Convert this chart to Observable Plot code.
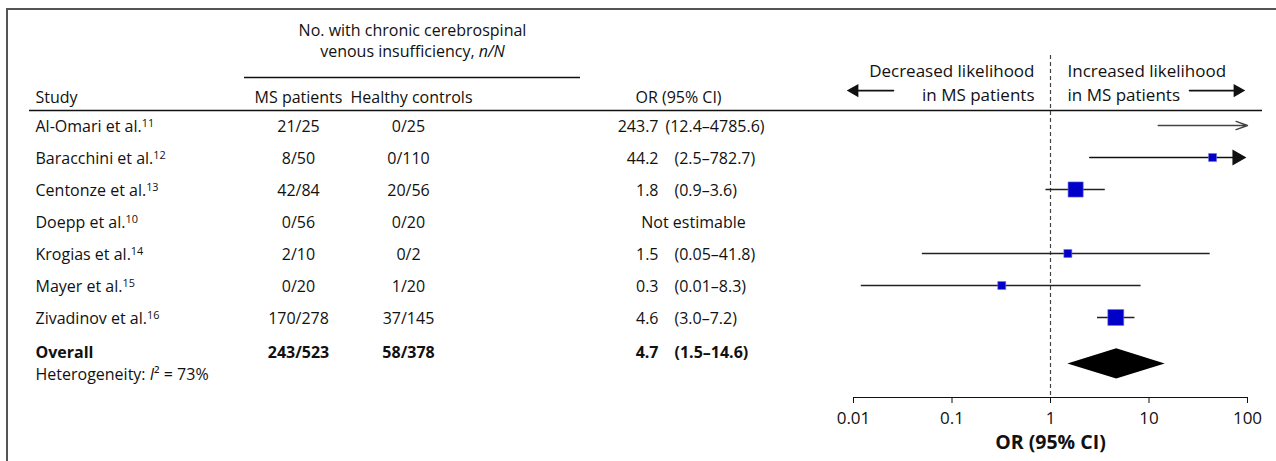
<!DOCTYPE html>
<html>
<head>
<meta charset="utf-8">
<script src="https://cdn.jsdelivr.net/npm/d3@7"></script>
<script src="https://cdn.jsdelivr.net/npm/@observablehq/plot@0.6"></script>
<style>
  body { margin: 0; background: #fff; }
  #wrap { position: relative; width: 1276px; height: 461px; overflow: hidden; background: #fff; }
  #frame { position: absolute; left: 6px; top: 8px; width: 1290px; height: 470px;
           border-top: 2px solid #555; border-left: 2px solid #555; }
  #wrap svg { position: absolute; left: 0; top: 0; }
</style>
</head>
<body>
<div id="wrap"><div id="frame"></div></div>
<script>
// ---------------- data ----------------
const studies = ["Al-Omari et al.", "Baracchini et al.", "Centonze et al.", "Doepp et al.", "Krogias et al.", "Mayer et al.", "Zivadinov et al."];
const refs = ["11", "12", "13", "10", "14", "15", "16"];
const msPatients = ["21/25", "8/50", "42/84", "0/56", "2/10", "0/20", "170/278"];
const healthyControls = ["0/25", "0/110", "20/56", "0/20", "0/2", "1/20", "37/145"];
const orEst = ["243.7", "44.2", "1.8", null, "1.5", "0.3", "4.6"];
const orCI = ["(12.4–4785.6)", "(2.5–782.7)", "(0.9–3.6)", "Not estimable", "(0.05–41.8)", "(0.01–8.3)", "(3.0–7.2)"];
const oddsRatio = [243.7, 44.2, 1.8, null, 1.5, 0.32, 4.6];
const ciLow = [12.4, 2.5, 0.9, null, 0.05, 0.012, 3.0];
const ciHigh = [4785.6, 782.7, 3.6, null, 41.8, 8.3, 7.2];
const weight = [null, 1, 3.6, null, 1, 1, 4];
const overallLabel = "Overall";
const overallMS = "243/523";
const overallHC = "58/378";
const overallEst = "4.7";
const overallCI = "(1.5–14.6)";
const overallOR = 4.7, overallLow = 1.5, overallHigh = 14.6;
const hetLine = "Heterogeneity: I² = 73%";
const groupTitle = ["No. with chronic cerebrospinal", "venous insufficiency, n/N"];
const colHeads = ["Study", "MS patients", "Healthy controls", "OR (95% CI)"];
const sideLeft = ["Decreased likelihood", "in MS patients"];
const sideRight = ["Increased likelihood", "in MS patients"];
const xTicks = [0.01, 0.1, 1, 10, 100];
const xLabel = "OR (95% CI)";

// ---------------- layout ----------------
const W = 1276, H = 461;
const FONT = '"Open Sans", "Noto Sans", sans-serif';
const INK = "#111";
const col = { study: 35, ms: 298, hc: 408, hcHead: 411, est: 658, ci: 674, ciTight: 665, notEst: 693, orHead: 678, group: 412 };
const spanLine = [244, 580], headRule = [29, 1262];
// y in "row units": row i of the studies sits at i (32 px per row)
const yDomain = [8.5, -3.90625];
const yr = { group: -2.72, spanLine: -1.5, head: -0.906, rule: -0.469,
             side: -1.406, arrow: -1.09, dashTop: -2.19,
             overall: 7.0625, het: 7.75, diamond: 7.45, diamondHalf: 0.47 };
const xDomain = [0.01, 100];

const rows = studies.map((study, i) => ({
  i, study, ms: msPatients[i], hc: healthyControls[i], est: orEst[i], ci: orCI[i],
  or: oddsRatio[i], low: ciLow[i], high: ciHigh[i], w: weight[i]
}));
const est = rows.filter(d => d.or != null);
const shown = est.filter(d => d.or <= xDomain[1]);
const offRight = est.filter(d => d.or > xDomain[1]);
const clipped = shown.filter(d => d.high > xDomain[1]);
const full = shown.filter(d => d.high <= xDomain[1]);

const common = {
  width: W, height: H, marginTop: 0, marginBottom: 64,
  y: { domain: yDomain, axis: null },
  style: { fontFamily: FONT, fontSize: "16px", color: INK, background: "transparent" }
};
const txt = (data, o) => Plot.text(data, { lineAnchor: "middle", dy: 1, text: d => d, ...o });

// ---------------- table ----------------
const table = Plot.plot({
  ...common,
  marginLeft: 0, marginRight: 0,
  x: { type: "linear", domain: [0, W], range: [0, W], axis: null },
  marks: [
    txt([groupTitle.join("\n")], { x: col.group, y: yr.group, lineHeight: 1.375 }),
    Plot.ruleY([yr.spanLine], { x1: spanLine[0], x2: spanLine[1], stroke: INK, strokeWidth: 1.4 }),
    txt([colHeads[0]], { x: col.study, y: yr.head, textAnchor: "start" }),
    txt([colHeads[1]], { x: col.ms, y: yr.head }),
    txt([colHeads[2]], { x: col.hcHead, y: yr.head }),
    txt([colHeads[3]], { x: col.orHead, y: yr.head }),
    Plot.ruleY([yr.rule], { x1: headRule[0], x2: headRule[1], stroke: INK, strokeWidth: 1.5 }),
    txt(rows, { x: col.study, y: "i", text: "study", textAnchor: "start" }),
    txt(rows, { x: col.ms, y: "i", text: "ms" }),
    txt(rows, { x: col.hc, y: "i", text: "hc" }),
    txt(rows.filter(d => d.est), { x: col.est, y: "i", text: "est", textAnchor: "end" }),
    txt(rows.filter(d => d.est), { x: d => d.est.length > 4 ? col.ciTight : col.ci, y: "i", text: "ci", textAnchor: "start" }),
    txt(rows.filter(d => !d.est), { x: col.notEst, y: "i", text: "ci" }),
    txt([overallLabel], { x: col.study, y: yr.overall, textAnchor: "start", fontWeight: "bold" }),
    txt([overallMS], { x: col.ms, y: yr.overall, fontWeight: "bold" }),
    txt([overallHC], { x: col.hc, y: yr.overall, fontWeight: "bold" }),
    txt([overallEst], { x: col.est, y: yr.overall, textAnchor: "end", fontWeight: "bold" }),
    txt([overallCI], { x: col.ci, y: yr.overall, textAnchor: "start", fontWeight: "bold" }),
    txt([hetLine], { x: col.study, y: yr.het, textAnchor: "start" })
  ]
});

// ---------------- forest ----------------
const fmt = d3.format("~g");
const forest = Plot.plot({
  ...common,
  style: { ...common.style, fontSize: "17px" },
  marginLeft: 853, marginRight: W - 1247,
  x: { type: "log", domain: xDomain, ticks: xTicks, tickFormat: fmt, tickSize: 6, tickPadding: 8, label: null, line: true },
  marks: [
    Plot.ruleX([1], { y1: yr.dashTop, y2: yDomain[0], stroke: "#444", strokeWidth: 1.2, strokeDasharray: "4,3" }),
    txt([sideLeft.join("\n")], { x: 1, y: yr.side, textAnchor: "end", dx: -16, fontSize: 17, lineHeight: 1.37 }),
    txt([sideRight.join("\n")], { x: 1, y: yr.side, textAnchor: "start", dx: 17, fontSize: 17, lineHeight: 1.37 }),
    // direction arrows
    Plot.arrow([0], { x1: 1, x2: xDomain[0], y1: yr.arrow, y2: yr.arrow, insetStart: 157, insetEnd: 2, headLength: 0, stroke: INK, strokeWidth: 1.6 }),
    Plot.dot([0], { x: xDomain[0], y: yr.arrow, symbol: "triangle", rotate: -90, r: 5, fill: INK, dx: 1 }),
    Plot.arrow([0], { x1: 1, x2: xDomain[1], y1: yr.arrow, y2: yr.arrow, insetStart: 139, insetEnd: 8, headLength: 0, stroke: INK, strokeWidth: 1.6 }),
    Plot.dot([0], { x: xDomain[1], y: yr.arrow, symbol: "triangle", rotate: 90, r: 5, fill: INK, dx: -10 }),
    // off-scale estimate
    Plot.arrow(offRight, { x1: "low", x2: xDomain[1], y1: "i", y2: "i", stroke: "#444", strokeWidth: 1.4, headLength: 13, headAngle: 40 }),
    // clipped CI
    Plot.arrow(clipped, { x1: "low", x2: xDomain[1], y1: "i", y2: "i", insetEnd: 8, headLength: 0, stroke: INK, strokeWidth: 1.4 }),
    Plot.dot(clipped, { x: xDomain[1], y: "i", symbol: "triangle", rotate: 90, r: 6, fill: INK, dx: -10.4 }),
    // full CIs
    Plot.ruleY(full, { y: "i", x1: "low", x2: "high", stroke: "#222", strokeWidth: 1.3 }),
    // study boxes
    Plot.dot(shown, { x: "or", y: "i", r: "w", symbol: "square", fill: "#0000c8", stroke: "#6f6fe0", strokeWidth: 0.6 }),
    // overall diamond
    Plot.areaX([
      { y: yr.diamond - yr.diamondHalf, x1: overallOR, x2: overallOR },
      { y: yr.diamond, x1: overallLow, x2: overallHigh },
      { y: yr.diamond + yr.diamondHalf, x1: overallOR, x2: overallOR }
    ], { y: "y", x1: "x1", x2: "x2", fill: "#000", curve: "linear" }),
    Plot.text([xLabel], { frameAnchor: "bottom", dy: 45, text: d => d, fontWeight: "bold", fontSize: 19.5, lineAnchor: "middle" })
  ],
  r: { type: "sqrt", domain: [0, 4], range: [0, 9] }
});

// ---------------- rich text (superscripts, italics) ----------------
d3.select(table).selectAll("text").each(function () {
  const t = this.textContent, sel = d3.select(this);
  const k = studies.indexOf(t);
  if (k >= 0) {
    sel.append("tspan").attr("dy", "-0.45em").attr("font-size", "0.68em").text(refs[k]);
  } else if (t === hetLine) {
    sel.text(null);
    sel.append("tspan").text("Heterogeneity: ");
    sel.append("tspan").attr("font-style", "italic").text("I");
    sel.append("tspan").text("² = 73%");
  }
});
d3.select(table).selectAll("tspan").each(function () {
  if (this.textContent === groupTitle[1] && this.childElementCount === 0) {
    const sel = d3.select(this);
    sel.text("venous insufficiency, ");
    sel.append("tspan").attr("font-style", "italic").text("n/N");
  }
});

const wrap = document.getElementById("wrap");
wrap.appendChild(table);
wrap.appendChild(forest);
</script>
</body>
</html>
